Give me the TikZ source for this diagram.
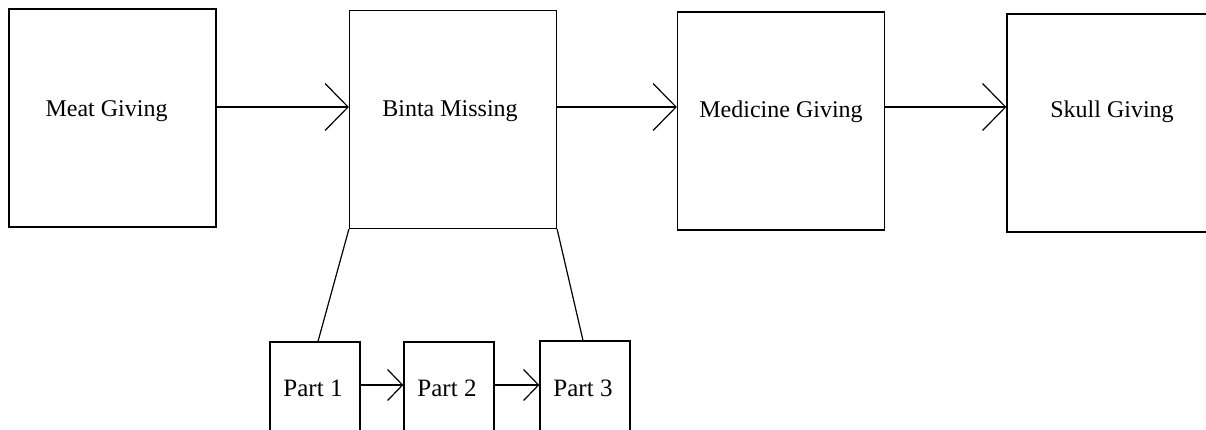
\documentclass[tikz,border=0pt]{standalone}
\usepackage{fontspec}
\setmainfont{Liberation Serif}
\usetikzlibrary{arrows.meta}
\begin{document}
\begin{tikzpicture}[x=1pt,y=-1pt,
  box/.style={draw=black, line width=1.2pt, rectangle, inner sep=0pt},
  big/.style={box, minimum width=207pt, minimum height=218pt},
  part/.style={box, minimum width=90pt, minimum height=90pt},
  txt/.style={font=\fontsize{24}{28}\selectfont, inner sep=0pt},
  stxt/.style={font=\fontsize{25}{29}\selectfont, inner sep=0pt},
  arr/.style={line width=1.2pt, -{Straight Barb[length=23pt,width=47pt,line width=1.2pt]}},
  sarr/.style={line width=1.2pt, -{Straight Barb[length=15pt,width=31pt,line width=1.2pt]}},
  conn/.style={line width=1.2pt}]
\useasboundingbox (0,0) rectangle (1206,429);
\fill[white] (0,0) rectangle (1206,429);
\clip (0,0) rectangle (1206,429);
\node[big, label={[txt,yshift=6.5pt,xshift=-6pt]center:Meat Giving}] (meat) at (112.5,118) {};
\node[big, label={[txt,yshift=8pt,xshift=-3pt]center:Binta Missing}] (binta) at (453,119.5) {};
\node[big, label={[txt,yshift=9.5pt]center:Medicine Giving}] (med) at (781,121) {};
\node[big, minimum width=200pt, label={[txt,yshift=11.5pt,xshift=5pt]center:Skull Giving}] (skull) at (1107,123) {};
\node[part, label={[stxt,yshift=-1pt,xshift=-2pt]center:Part 1}] (p1) at (315,387) {};
\node[part, label={[stxt,yshift=-1pt,xshift=-2pt]center:Part 2}] (p2) at (449,387) {};
\node[part, label={[stxt,yshift=-2pt,xshift=-2pt]center:Part 3}] (p3) at (585,386) {};
\draw[arr] (meat.east |- 0,107) -- (binta.west |- 0,107);
\draw[arr] (binta.east |- 0,107) -- (med.west |- 0,107);
\draw[arr] (med.east |- 0,107) -- (skull.west |- 0,107);
\draw[sarr] (p1.east |- 0,385) -- (p2.west |- 0,385);
\draw[sarr] (p2.east |- 0,385) -- (p3.west |- 0,385);
\draw[conn] (binta.south west) -- ([xshift=3pt]p1.north);
\draw[conn] (binta.south east) -- ([xshift=-2pt]p3.north);
\end{tikzpicture}
\end{document}
